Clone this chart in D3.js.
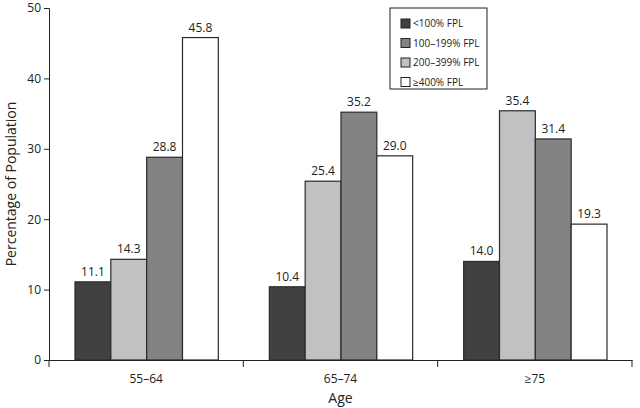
<!DOCTYPE html>
<html><head><meta charset="utf-8">
<script src="https://cdn.jsdelivr.net/npm/d3@7"></script>
<style>body{margin:0;background:#fff}text{font-family:"Open Sans",sans-serif;fill:#222}</style>
</head><body><svg id="c" width="640" height="408"></svg>
<script>
const categories = ["55–64", "65–74", "≥75"];
const seriesNames = ["<100% FPL", "100–199% FPL", "200–399% FPL", "≥400% FPL"];
const values = [
  [11.1, 10.4, 14.0],
  [14.3, 25.4, 35.4],
  [28.8, 35.2, 31.4],
  [45.8, 29.0, 19.3]
];
const barColors = ["#414143", "#c1c1c3", "#838385", "#ffffff"];
const legendColors = ["#414143", "#838385", "#c1c1c3", "#ffffff"];
const yTicks = [0, 10, 20, 30, 40, 50];

const svg = d3.select("#c");
const m = {l: 49, r: 8, t: 8, b: 48};
const W = 640, H = 408;
const x0 = d3.scaleBand().domain(categories).range([m.l, W - m.r]).paddingInner(0).paddingOuter(0);
const x1 = d3.scaleBand().domain(d3.range(4)).range([26, x0.bandwidth() - 25]).padding(0);
const y = d3.scaleLinear().domain([0, 50]).range([H - m.b, m.t]);

// bars
categories.forEach((c, ci) => {
  seriesNames.forEach((s, si) => {
    const v = values[si][ci];
    const bx = x0(c) + x1(si);
    svg.append("rect").attr("x", bx).attr("y", y(v)).attr("width", x1.bandwidth()).attr("height", y(0) - y(v))
      .attr("fill", barColors[si]).attr("stroke", "#2a2a2a").attr("stroke-width", 1.2);
    svg.append("text").attr("x", bx + x1.bandwidth() / 2).attr("y", y(v) - 6).attr("text-anchor", "middle")
      .attr("font-size", 12).text(v.toFixed(1));
  });
});

// y axis
const ya = svg.append("g").attr("transform", `translate(${m.l},0)`)
  .call(d3.axisLeft(y).tickValues(yTicks).tickSize(5).tickPadding(3));
ya.selectAll("text").attr("font-size", 12).style("font-family", "'Open Sans',sans-serif").attr("fill", "#222");
ya.selectAll("line,path").attr("stroke", "#222");

// x axis
const xa = svg.append("g").attr("transform", `translate(0,${y(0)})`)
  .call(d3.axisBottom(x0).tickSize(0).tickPadding(14));
xa.selectAll("text").attr("font-size", 12).style("font-family", "'Open Sans',sans-serif").attr("fill", "#222");
xa.select("path").attr("stroke", "#222").attr("stroke-width", 1.2);
const bounds = [x0(categories[0])].concat(categories.map(c => x0(c) + x0.bandwidth()));
xa.selectAll(".bt").data(bounds).enter().append("line").attr("x1", d => d).attr("x2", d => d)
  .attr("y1", 0).attr("y2", 7).attr("stroke", "#222");

// axis titles
svg.append("text").attr("transform", `translate(16,${(y(0) + y(50)) / 2}) rotate(-90)`).attr("text-anchor", "middle")
  .attr("font-size", 14).text("Percentage of Population");
svg.append("text").attr("x", (m.l + W - m.r) / 2).attr("y", 403).attr("text-anchor", "middle")
  .attr("font-size", 14).text("Age");

// legend
const lg = svg.append("g").attr("transform", "translate(390,8)");
lg.append("rect").attr("width", 97).attr("height", 81).attr("fill", "#fff").attr("stroke", "#222");
seriesNames.forEach((s, i) => {
  const yy = 15 + i * 19.5;
  lg.append("rect").attr("x", 11).attr("y", yy - 4).attr("width", 9).attr("height", 9)
    .attr("fill", legendColors[i]).attr("stroke", "#222");
  lg.append("text").attr("x", 23).attr("y", yy + 4).attr("font-size", 10).text(s);
});
</script></body></html>
